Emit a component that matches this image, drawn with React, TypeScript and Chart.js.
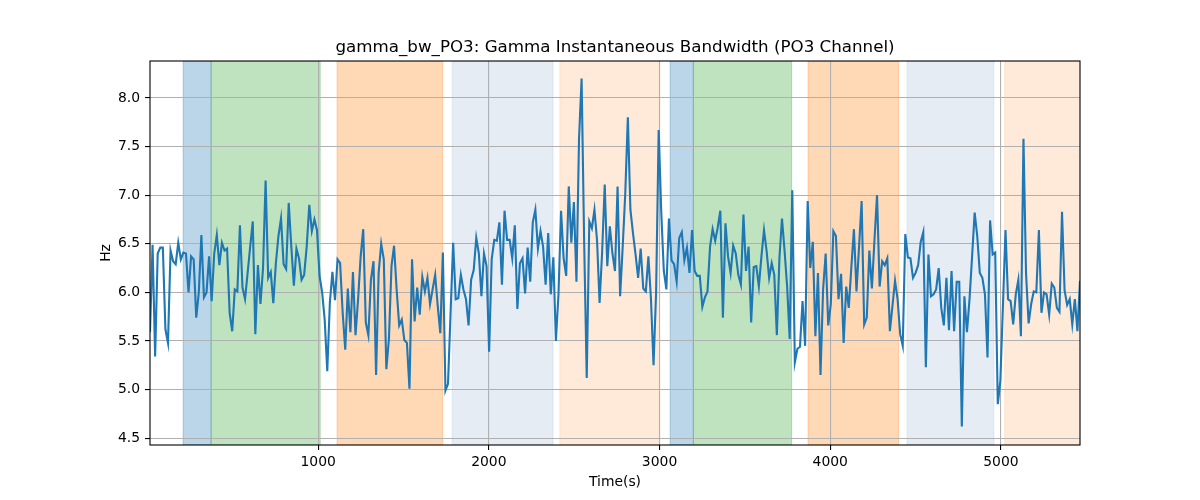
import { useEffect, useRef } from 'react';
import { Chart, registerables } from 'chart.js';

Chart.register(...registerables);

// sampling of the signal (seconds)
const TIME_START = 15;
const TIME_STEP = 15.05;

// instantaneous bandwidth readings, Hz
const BANDWIDTH_HZ = [
  5.59, 6.49, 5.34, 6.40, 6.46, 6.46, 5.62, 5.48, 6.43, 6.32,
  6.29, 6.51, 6.34, 6.41, 6.40, 6.00, 6.37, 6.34, 5.74, 6.00,
  6.59, 5.95, 6.00, 6.37, 5.91, 6.40, 6.59, 6.28, 6.51, 6.43,
  6.45, 5.79, 5.60, 6.03, 6.01, 6.69, 6.05, 5.93, 6.20, 6.47,
  6.73, 5.57, 6.28, 5.88, 6.25, 7.15, 6.15, 6.21, 5.89, 6.30,
  6.58, 6.76, 6.29, 6.24, 6.92, 6.47, 6.07, 6.45, 6.35, 6.13,
  6.18, 6.47,
  6.90, 6.63, 6.75, 6.64, 6.17, 6.00, 5.72, 5.19, 5.89, 6.21,
  5.92, 6.34, 6.30, 5.79, 5.41, 6.04, 5.59, 6.21, 5.56, 5.93,
  6.37, 6.65, 5.69, 5.56, 6.13, 6.32, 5.15, 6.20, 6.50, 6.34,
  5.21, 5.52, 6.27, 6.48, 6.03, 5.66, 5.72, 5.51, 5.48, 5.01,
  6.34, 5.70, 6.05, 5.77, 6.16, 6.01, 6.15, 5.88, 6.03, 6.18,
  5.86, 5.58, 6.41, 4.99, 5.06, 5.79, 6.51, 5.93, 5.94,
  6.18, 6.03, 5.93, 5.66, 6.13, 6.23, 6.56, 6.40, 5.96, 6.40,
  6.27, 5.39, 6.34, 6.54, 6.53, 6.72, 6.08, 6.84, 6.54, 6.54,
  6.35, 6.69, 5.83, 6.30, 6.35, 5.99, 6.46, 6.11, 6.72, 6.85,
  6.45, 6.63, 6.47, 6.08, 6.61, 5.98, 6.36, 5.50, 5.98, 6.84,
  6.35, 6.17, 7.09, 6.51, 6.93, 6.11, 7.58, 8.20, 6.51, 5.12,
  6.73, 6.66, 6.85, 6.54, 5.89, 6.42, 7.11, 6.27, 6.68,
  6.40, 6.22, 7.09, 5.96, 6.47, 7.02, 7.80, 6.85, 6.61, 6.39,
  6.15, 6.45, 6.04, 6.01, 6.37, 5.93, 5.25, 6.00, 7.67, 6.83,
  6.22, 6.03, 6.76, 6.33, 6.29, 6.11, 6.56, 6.62, 6.33, 6.46,
  6.20, 6.64, 6.22, 6.17, 6.17, 5.85, 5.95, 6.01, 6.47, 6.65,
  6.53, 6.67, 6.84, 5.74, 6.71, 6.37, 6.20, 6.48, 6.40, 6.18,
  6.08, 6.80, 6.22, 6.47, 5.69, 6.26, 6.27, 6.06, 6.37, 6.64,
  6.43, 6.15, 6.30, 6.18, 5.56, 6.35, 6.76, 6.43, 6.06, 5.52,
  7.05, 5.28, 5.42, 5.44, 5.91, 5.45, 6.94, 6.25, 6.52, 5.55,
  6.20, 5.15, 6.03, 6.40, 5.66, 5.88, 6.63, 6.58, 5.93, 6.19,
  5.48, 6.06, 5.84, 6.26, 6.65, 6.01, 6.47, 6.94, 5.67, 5.74,
  6.43, 6.04, 6.54, 7.00, 6.06, 6.32, 6.28, 6.35, 5.60, 5.86,
  6.12, 5.93, 5.57, 5.45, 6.60, 6.36, 6.35, 6.15, 6.20,
  6.28, 6.52, 6.62, 5.23, 6.39, 5.96, 5.98, 6.03, 6.25, 5.84,
  5.66, 6.15, 5.61, 6.22, 5.60, 6.11, 6.11, 4.62, 5.96, 5.59,
  5.93, 6.37, 6.82, 6.58, 6.20, 6.15, 5.98, 5.33, 6.74, 6.39,
  6.41, 4.85, 5.09, 5.86, 6.64, 5.93, 5.91, 5.67, 5.98, 6.13,
  5.55, 7.58, 6.19, 5.68, 5.88, 6.01, 6.00, 6.64, 5.79, 6.00,
  5.98, 5.77, 6.09, 6.05, 5.84, 5.80, 6.83, 6.02, 5.87, 5.93,
  5.67, 5.93, 5.60, 6.12,
];

const TIMES = BANDWIDTH_HZ.map((_, i) => TIME_START + i * TIME_STEP);

const X_TICKS = [1000, 2000, 3000, 4000, 5000];
const Y_TICKS = [4.5, 5.0, 5.5, 6.0, 6.5, 7.0, 7.5, 8.0];
const Y_MIN = 4.43;
const Y_MAX = 8.38;

// shaded segments (seconds)
const SPAN_STARTS = [209, 373, 1111, 1785, 2416, 3062, 3198, 3870, 4450, 5022];
const SPAN_ENDS = [373, 1012, 1730, 2376, 2999, 3198, 3774, 4401, 4959, 5480];
const SPAN_KINDS = ['blue', 'green', 'orange', 'pale', 'peach', 'blue', 'green', 'orange', 'pale', 'peach'];

const SPAN_COLORS: Record<string, string> = {
  blue: 'rgba(31, 119, 180, 0.3)',
  green: 'rgba(44, 160, 44, 0.3)',
  orange: 'rgba(255, 127, 14, 0.3)',
  pale: 'rgba(176, 196, 222, 0.33)',
  peach: 'rgba(255, 160, 80, 0.22)',
};

const TITLE = 'gamma_bw_PO3: Gamma Instantaneous Bandwidth (PO3 Channel)';
const FONT = '"DejaVu Sans", sans-serif';

const spansPlugin = {
  id: 'spans',
  beforeDraw(chart: Chart) {
    const { ctx, chartArea } = chart;
    const x = chart.scales.x;
    ctx.save();
    ctx.beginPath();
    ctx.rect(chartArea.left, chartArea.top, chartArea.right - chartArea.left, chartArea.bottom - chartArea.top);
    ctx.clip();
    SPAN_STARTS.forEach((s, i) => {
      const x0 = x.getPixelForValue(s);
      const x1 = x.getPixelForValue(SPAN_ENDS[i]);
      ctx.fillStyle = SPAN_COLORS[SPAN_KINDS[i]];
      ctx.fillRect(x0, chartArea.top, x1 - x0, chartArea.bottom - chartArea.top);
      ctx.strokeStyle = SPAN_COLORS[SPAN_KINDS[i]];
      ctx.lineWidth = 1;
      ctx.strokeRect(x0, chartArea.top, x1 - x0, chartArea.bottom - chartArea.top);
    });
    ctx.restore();
  },
};

const frameAndTextPlugin = {
  id: 'frameText',
  afterDraw(chart: Chart) {
    const { ctx, chartArea } = chart;
    const cx = (chartArea.left + chartArea.right) / 2;
    const cy = (chartArea.top + chartArea.bottom) / 2;
    ctx.save();
    ctx.strokeStyle = '#000';
    ctx.lineWidth = 1.1;
    ctx.strokeRect(chartArea.left, chartArea.top, chartArea.right - chartArea.left, chartArea.bottom - chartArea.top);

    ctx.fillStyle = '#000';
    ctx.textAlign = 'center';
    ctx.textBaseline = 'alphabetic';
    ctx.font = `16.7px ${FONT}`;
    ctx.fillText(TITLE, cx, 52);

    ctx.font = `13.9px ${FONT}`;
    ctx.fillText('Time(s)', cx, 485.5);

    ctx.translate(110, cy);
    ctx.rotate(-Math.PI / 2);
    ctx.fillText('Hz', 0, 0);
    ctx.restore();
  },
};

const App = () => {
  const canvasRef = useRef<HTMLCanvasElement | null>(null);
  const chartRef = useRef<Chart | null>(null);

  useEffect(() => {
    if (!canvasRef.current) return;
    const ctx = canvasRef.current.getContext('2d');
    if (!ctx) return;

    if (chartRef.current) chartRef.current.destroy();

    chartRef.current = new Chart(ctx, {
      type: 'line',
      data: {
        datasets: [
          {
            label: 'gamma_bw_PO3',
            data: TIMES.map((t, i) => ({ x: t, y: BANDWIDTH_HZ[i] })),
            borderColor: '#1f77b4',
            borderWidth: 2.1,
            pointRadius: 0,
            tension: 0,
            fill: false,
          },
        ],
      },
      options: {
        animation: false,
        responsive: true,
        maintainAspectRatio: false,
        layout: { padding: { top: 61, right: 120, left: 0, bottom: 0 } },
        plugins: {
          legend: { display: false },
          tooltip: { enabled: false },
          title: { display: false },
        },
        scales: {
          x: {
            type: 'linear',
            min: TIME_START,
            max: TIMES[TIMES.length - 1],
            afterBuildTicks: (scale: any) => {
              scale.ticks = X_TICKS.map((v) => ({ value: v }));
            },
            afterFit: (scale: any) => {
              scale.height = 55;
            },
            ticks: {
              color: '#000',
              font: { family: FONT, size: 13.9 },
              padding: 4,
              maxRotation: 0,
              callback: (v: any) => String(v),
            },
            grid: {
              color: '#b0b0b0',
              lineWidth: 1.1,
              tickColor: '#000',
              tickLength: 5,
              tickWidth: 1.1,
            },
            border: { display: false },
          },
          y: {
            type: 'linear',
            min: Y_MIN,
            max: Y_MAX,
            afterBuildTicks: (scale: any) => {
              scale.ticks = Y_TICKS.map((v) => ({ value: v }));
            },
            afterFit: (scale: any) => {
              scale.width = 150;
            },
            ticks: {
              color: '#000',
              font: { family: FONT, size: 13.9 },
              padding: 5,
              callback: (v: any) => Number(v).toFixed(1),
            },
            grid: {
              color: '#b0b0b0',
              lineWidth: 1.1,
              tickColor: '#000',
              tickLength: 5,
              tickWidth: 1.1,
            },
            border: { display: false },
          },
        },
      },
      plugins: [spansPlugin, frameAndTextPlugin],
    });

    return () => {
      chartRef.current?.destroy();
      chartRef.current = null;
    };
  }, []);

  return (
    <div style={{ position: 'absolute', left: 0, top: 0, width: 1200, height: 500, background: '#fff' }}>
      <canvas ref={canvasRef} />
    </div>
  );
};

export default App;
